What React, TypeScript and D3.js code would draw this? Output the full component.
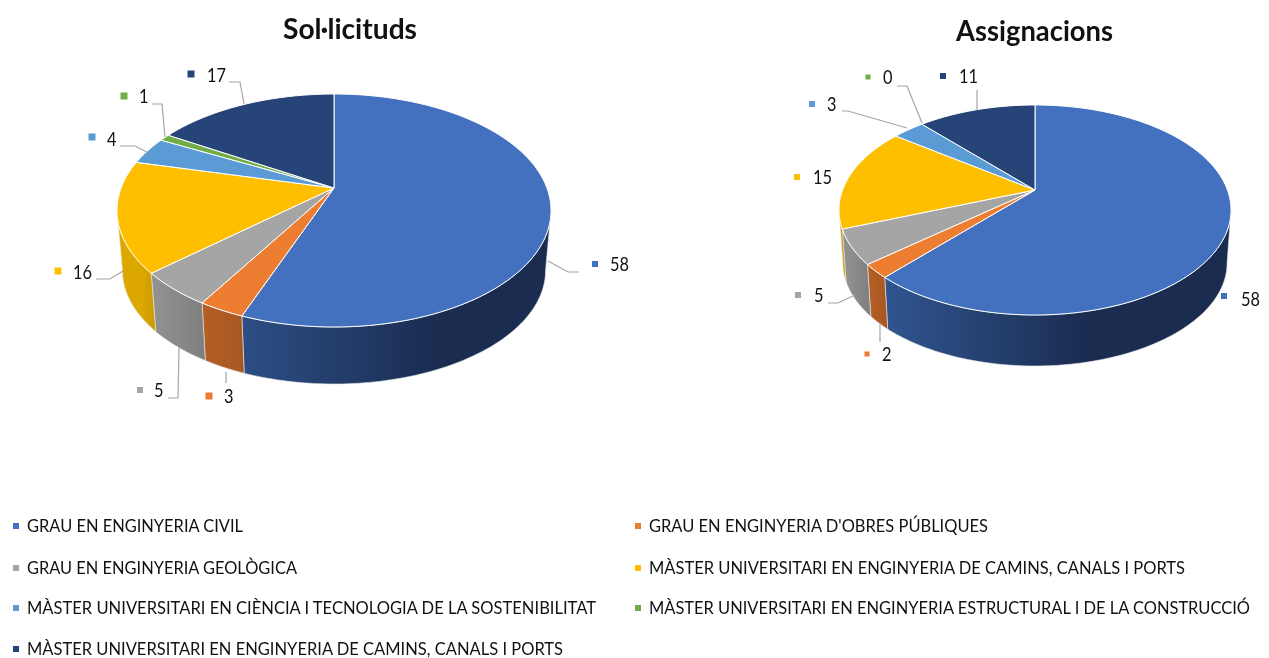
import React from "react";
import * as d3 from "d3";

const categories = [
  "GRAU EN ENGINYERIA CIVIL",
  "GRAU EN ENGINYERIA D'OBRES PÚBLIQUES",
  "GRAU EN ENGINYERIA GEOLÒGICA",
  "MÀSTER UNIVERSITARI EN ENGINYERIA DE CAMINS, CANALS I PORTS",
  "MÀSTER UNIVERSITARI EN CIÈNCIA I TECNOLOGIA DE LA SOSTENIBILITAT",
  "MÀSTER UNIVERSITARI EN ENGINYERIA ESTRUCTURAL I DE LA CONSTRUCCIÓ",
  "MÀSTER UNIVERSITARI EN ENGINYERIA DE CAMINS, CANALS I PORTS ",
];
const solLicituds = [58, 3, 5, 16, 4, 1, 17];
const assignacions = [58, 2, 5, 15, 3, 0, 11];

const topColors = ["#4371c0", "#ed7d31", "#a5a5a5", "#fdbf00", "#5b9bd5", "#70ad47", "#264478"];
const sideStart = ["#305590", "#b45e26", "#919191", "#dca800", "#5b9bd5", "#70ad47", "#264478"];
const sideEnd = ["#1a2c50", "#a85620", "#7e7e7e", "#c99a00", "#5b9bd5", "#70ad47", "#264478"];

const color = d3.scaleOrdinal<number, string>().domain(d3.range(7)).range(topColors);

const pieGen = d3.pie<number>().sort(null).startAngle(0).endAngle(2 * Math.PI);
const lineGen = d3.line<[number, number]>();
const leaderGen = d3.line<[number, number]>();

type Geo = {
  id: string; cx: number; apexY: number; top: number; bottom: number; left: number; right: number;
  floor: number; floorScale: number; gradFrom: number; gradTo: number;
};
const geoA: Geo = { id: "a", cx: 334, apexY: 188, top: 94, bottom: 327, left: 117, right: 551, floor: 384, floorScale: 0.975, gradFrom: 200, gradTo: 440 };
const geoB: Geo = { id: "b", cx: 1035, apexY: 190, top: 105, bottom: 315, left: 839, right: 1231, floor: 366, floorScale: 0.98, gradFrom: 885, gradTo: 1090 };

type LabelPos = { mx: number; my: number; tx: number; ty: number; ms: number; leader?: [number, number][] };
const labelsA: LabelPos[] = [
  { mx: 595, my: 264, tx: 610, ty: 263, ms: 6, leader: [[548, 261], [568, 272], [579, 272]] },
  { mx: 209, my: 396, tx: 224, ty: 395, ms: 7, leader: [[226, 372], [226, 383]] },
  { mx: 140, my: 390, tx: 154, ty: 389, ms: 6, leader: [[179, 347], [178, 398], [168, 398]] },
  { mx: 58, my: 271, tx: 73, ty: 271, ms: 7, leader: [[96, 279], [110, 279], [123, 271]] },
  { mx: 92, my: 137, tx: 107, ty: 138, ms: 7, leader: [[120, 146], [135, 146], [147, 152]] },
  { mx: 124, my: 96, tx: 139, ty: 95, ms: 7, leader: [[152, 104], [162, 104], [165, 137]] },
  { mx: 191, my: 74, tx: 207, ty: 74, ms: 7, leader: [[229, 82], [240, 82], [244, 104]] },
];
const labelsB: LabelPos[] = [
  { mx: 1224, my: 296, tx: 1241, ty: 298, ms: 6 },
  { mx: 867, my: 354, tx: 882, ty: 353, ms: 5, leader: [[880, 323], [880, 342]] },
  { mx: 798, my: 295, tx: 814, ty: 294, ms: 6, leader: [[828, 303], [838, 303], [855, 295]] },
  { mx: 797, my: 177, tx: 813, ty: 176, ms: 6 },
  { mx: 812, my: 104, tx: 827, ty: 103, ms: 6, leader: [[842, 111], [848, 111], [907, 128]] },
  { mx: 868, my: 77, tx: 883, ty: 76, ms: 5, leader: [[897, 86], [907, 86], [922, 123]] },
  { mx: 943, my: 76, tx: 959, ty: 75, ms: 6, leader: [[977, 90], [977, 110]] },
];

type LegendPos = { x: number; y: number; end: number };
const legendPos: LegendPos[] = [
  { x: 27, y: 525, end: 243 },
  { x: 649, y: 525, end: 988 },
  { x: 27, y: 567, end: 297 },
  { x: 649, y: 567, end: 1185 },
  { x: 27, y: 607, end: 596 },
  { x: 649, y: 607, end: 1250 },
  { x: 27, y: 648, end: 563 },
];

const FONT = "Lato, 'Open Sans', sans-serif";

function makeProjector(g: Geo) {
  const up = g.apexY - g.top;
  const down = g.bottom - g.apexY;
  const k = (up - down) / (up + down);
  const B = down * (1 + k);
  const halfW = (g.right - g.left) / 2;
  const A = halfW * Math.sqrt(1 - k * k);
  const top = (t: number): [number, number] => {
    const u = Math.sin(t), v = -Math.cos(t), w = 1 + k * v;
    return [g.cx + (A * u) / w, g.apexY + (B * v) / w];
  };
  const floorApex = g.floor - down * g.floorScale;
  const floor = (t: number): [number, number] => {
    const u = Math.sin(t), v = -Math.cos(t), w = 1 + k * v;
    return [g.cx + (g.floorScale * A * u) / w, floorApex + (g.floorScale * B * v) / w];
  };
  const tangent = Math.acos(k);
  return { top, floor, frontFrom: tangent, frontTo: 2 * Math.PI - tangent };
}

function samples(a: number, b: number): number[] {
  const n = Math.max(2, Math.ceil((b - a) / 0.02));
  return d3.range(n + 1).map((i) => a + ((b - a) * i) / n);
}

function Pie3D({ values, geo, labels, title, titleX, titleY, titleLen }: {
  values: number[]; geo: Geo; labels: LabelPos[]; title: string; titleX: number; titleY: number; titleLen: number;
}) {
  const p = makeProjector(geo);
  const arcs = pieGen(values);
  return (
    <g>
      <defs>
        {values.map((_, i) => (
          <linearGradient key={i} id={`side-${geo.id}-${i}`} gradientUnits="userSpaceOnUse" x1={i === 0 ? geo.gradFrom : p.floor(arcs[i].endAngle)[0]} x2={i === 0 ? geo.gradTo : p.floor(arcs[i].startAngle)[0]} y1={0} y2={0}>
            <stop offset="0" stopColor={sideStart[i]} />
            <stop offset="1" stopColor={sideEnd[i]} />
          </linearGradient>
        ))}
      </defs>
      <text x={titleX} y={titleY} fontFamily={FONT} fontWeight={700} fontSize={29} fill="#111" textLength={titleLen} lengthAdjust="spacingAndGlyphs" dominantBaseline="central">{title}</text>
      {arcs.map((a, i) => {
        const s = Math.max(a.startAngle, p.frontFrom);
        const e = Math.min(a.endAngle, p.frontTo);
        if (e <= s) return null;
        const ts = samples(s, e);
        const pts = [...ts.map(p.top), ...ts.slice().reverse().map(p.floor)];
        return <path key={i} d={lineGen(pts) + "Z"} fill={`url(#side-${geo.id}-${i})`} stroke="#e8e8e8" strokeWidth={0.6} />;
      })}
      {arcs.map((a, i) => {
        if (a.endAngle - a.startAngle <= 0) return null;
        const pts: [number, number][] = [[geo.cx, geo.apexY], ...samples(a.startAngle, a.endAngle).map(p.top)];
        return <path key={i} d={lineGen(pts) + "Z"} fill={color(i)} stroke="#fff" strokeWidth={1} strokeLinejoin="round" />;
      })}
      {labels.map((l, i) => (
        <g key={i}>
          {l.leader && <path d={leaderGen(l.leader) ?? ""} fill="none" stroke="#a6a6a6" strokeWidth={1.2} />}
          <rect x={l.mx - l.ms / 2} y={l.my - l.ms / 2} width={l.ms} height={l.ms} fill={color(i)} />
          <text x={l.tx} y={l.ty} fontFamily={FONT} fontSize={19} fill="#111" dominantBaseline="central" textLength={String(values[i]).length * 9.5} lengthAdjust="spacingAndGlyphs">{values[i]}</text>
        </g>
      ))}
    </g>
  );
}

export default function App() {
  return (
    <svg width={1269} height={658} style={{ position: "absolute", left: 0, top: 0, display: "block", background: "#fff" }}>
      <defs>
        <filter id="soft" x="0" y="0" width="100%" height="100%" colorInterpolationFilters="sRGB">
          <feGaussianBlur stdDeviation="0.7" />
        </filter>
      </defs>
      <g filter="url(#soft)">
        <rect width={1269} height={658} fill="#fff" />
        <Pie3D values={solLicituds} geo={geoA} labels={labelsA} title="Sol·licituds" titleX={283} titleY={27} titleLen={134} />
        <Pie3D values={assignacions} geo={geoB} labels={labelsB} title="Assignacions" titleX={956} titleY={29} titleLen={157} />
        {categories.map((c, i) => {
          const l = legendPos[i];
          return (
            <g key={i}>
              <rect x={l.x - 14} y={l.y - 2} width={6} height={6} fill={color(i)} />
              <text x={l.x} y={l.y} fontFamily={FONT} fontSize={17} fill="#111" dominantBaseline="central" textLength={l.end - l.x} lengthAdjust="spacingAndGlyphs">{c.trim()}</text>
            </g>
          );
        })}
      </g>
    </svg>
  );
}
